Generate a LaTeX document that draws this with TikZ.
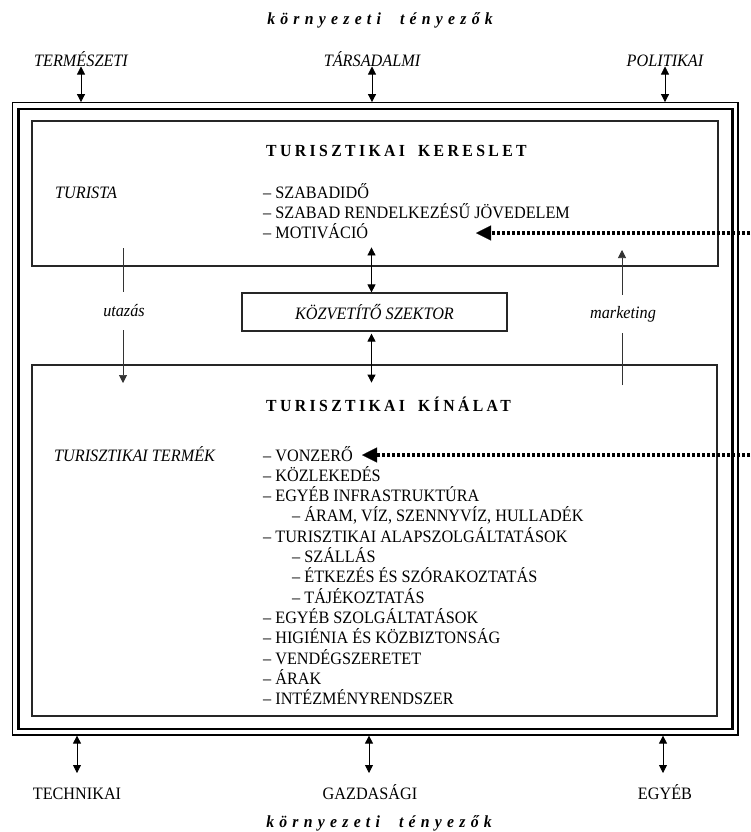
\documentclass[tikz,border=0pt]{standalone}
\usepackage{fontspec}
\setmainfont{Liberation Serif}[FakeStretch=0.93]
\usetikzlibrary{arrows.meta,calc}
\begin{document}
\begin{tikzpicture}[x=1bp,y=-1bp,
  every node/.style={inner sep=0pt, font=\fontsize{17.5}{20}\selectfont},
  lbl/.style={font=\fontsize{17.5}{20}\selectfont\itshape},
  txt/.style={font=\fontsize{17.5}{20}\selectfont, anchor=base west},
  hd/.style={font=\fontsize{17}{20}\selectfont\bfseries\addfontfeature{LetterSpace=20}, anchor=base west},
  env/.style={font=\fontsize{17}{20}\selectfont\bfseries\itshape\addfontfeature{LetterSpace=31}},
  box/.style={draw=black!85, line width=1.2bp},
  dbl/.style={line width=0.8bp, {Triangle[length=8bp,width=8bp]}-{Triangle[length=8bp,width=8bp]}},
  thinl/.style={line width=0.7bp, draw=black!80},
  sarr/.style={line width=0.7bp, draw=black!80, -{Triangle[length=8bp,width=8bp]}},
  darr/.style={line width=3.8bp, dash pattern=on 2.6bp off 2.4bp, -{Triangle[length=15bp,width=15bp,line width=0.3bp]}},
]
\useasboundingbox (0,0) rectangle (751,832);
\fill[white] (0,0) rectangle (751,832);

% frames
\node[draw, line width=1.2bp, minimum width=725.3bp, minimum height=632.3bp] (fo) at (375.35,418.85) {};
\node[draw, line width=2.4bp, minimum width=714bp, minimum height=620bp] (fi) at (375.5,419) {};

% environment titles
\node[env] (ttop) at (380,20) {környezeti\hspace{19bp}tényezők};
\node[env] (tbot) at (379,823) {környezeti\hspace{19bp}tényezők};

% top factors
\node[lbl, anchor=base] (t1) at (81,66.5) {TERMÉSZETI};
\node[lbl, anchor=base] (t2) at (372,66.5) {TÁRSADALMI};
\node[lbl, anchor=base] (t3) at (665,66.5) {POLITIKAI};
\draw[dbl] (t1.base) -- (t1.base |- fo.north);
\draw[dbl] (t2.base) -- (t2.base |- fo.north);
\draw[dbl] (t3.base) -- (t3.base |- fo.north);

% bottom factors
\node[anchor=base] (b1) at (77,799) {TECHNIKAI};
\node[anchor=base] (b2) at (370,799) {GAZDASÁGI};
\node[anchor=base] (b3) at (665,799) {EGYÉB};
\coordinate (c1) at (77,773);
\coordinate (c2) at (369,773);
\coordinate (c3) at (663,773);
\draw[dbl] (c1 |- fo.south) -- (c1);
\draw[dbl] (c2 |- fo.south) -- (c2);
\draw[dbl] (c3 |- fo.south) -- (c3);

% boxes
\node[box, minimum width=686bp, minimum height=145bp] (ker) at (375,193.5) {};
\node[box, minimum width=685bp, minimum height=351bp] (kin) at (374.5,540.5) {};
\node[box, lbl, minimum width=265bp, minimum height=38bp] (kozv) at (374.5,312) {KÖZVETÍTŐ SZEKTOR};

% demand box content
\node[hd] (kerT) at (266,156) {TURISZTIKAI\hspace{13bp}KERESLET};
\node[lbl, anchor=base west] (tur) at (55,198) {TURISTA};
\node[txt] (k1) at (263,198) {– SZABADIDŐ};
\node[txt] (k2) at (263,218) {– SZABAD RENDELKEZÉSŰ JÖVEDELEM};
\node[txt] (k3) at (263,238) {– MOTIVÁCIÓ};

% supply box content
\node[hd] (kinT) at (266,411) {TURISZTIKAI\hspace{13bp}KÍNÁLAT};
\node[lbl, anchor=base west] (term) at (54,461) {TURISZTIKAI TERMÉK};
\foreach \t/\ix [count=\i from 0] in {
  {– VONZERŐ}/263,
  {– KÖZLEKEDÉS}/263,
  {– EGYÉB INFRASTRUKTÚRA}/263,
  {– ÁRAM, VÍZ, SZENNYVÍZ, HULLADÉK}/292,
  {– TURISZTIKAI ALAPSZOLGÁLTATÁSOK}/263,
  {– SZÁLLÁS}/292,
  {– ÉTKEZÉS ÉS SZÓRAKOZTATÁS}/292,
  {– TÁJÉKOZTATÁS}/292,
  {– EGYÉB SZOLGÁLTATÁSOK}/263,
  {– HIGIÉNIA ÉS KÖZBIZTONSÁG}/263,
  {– VENDÉGSZERETET}/263,
  {– ÁRAK}/263,
  {– INTÉZMÉNYRENDSZER}/263}
  \node[txt] (n\i) at (\ix,461+20.3*\i) {\t};

% intermediary arrows
\draw[dbl] ($(kozv.north)+(-3,-45)$) -- ($(kozv.north)+(-3,0)$);
\draw[dbl] ($(kozv.south)+(-3,2)$) -- ($(kozv.south)+(-3,51)$);

% utazas
\node[lbl, minimum height=38bp] (ut) at (124,311) {utazás};
\coordinate (u0) at (123,248);
\coordinate (u1) at (123,383);
\draw[thinl] (u0) -- (u0 |- ut.north);
\draw[sarr] (u1 |- ut.south) -- (u1);

% marketing
\node[lbl, minimum height=38bp] (mk) at (623,314) {marketing};
\coordinate (m0) at (622,385);
\coordinate (m1) at (622,250);
\draw[thinl] (m0) -- (m0 |- mk.south);
\draw[sarr] (m1 |- mk.north) -- (m1);

% dotted arrows
\coordinate (e1) at (755,233);
\coordinate (h1) at (476,233);
\coordinate (e2) at (755,455);
\coordinate (h2) at (362,455);
\draw[darr] (e1) -- (h1);
\draw[darr] (e2) -- (h2);
\end{tikzpicture}
\end{document}
